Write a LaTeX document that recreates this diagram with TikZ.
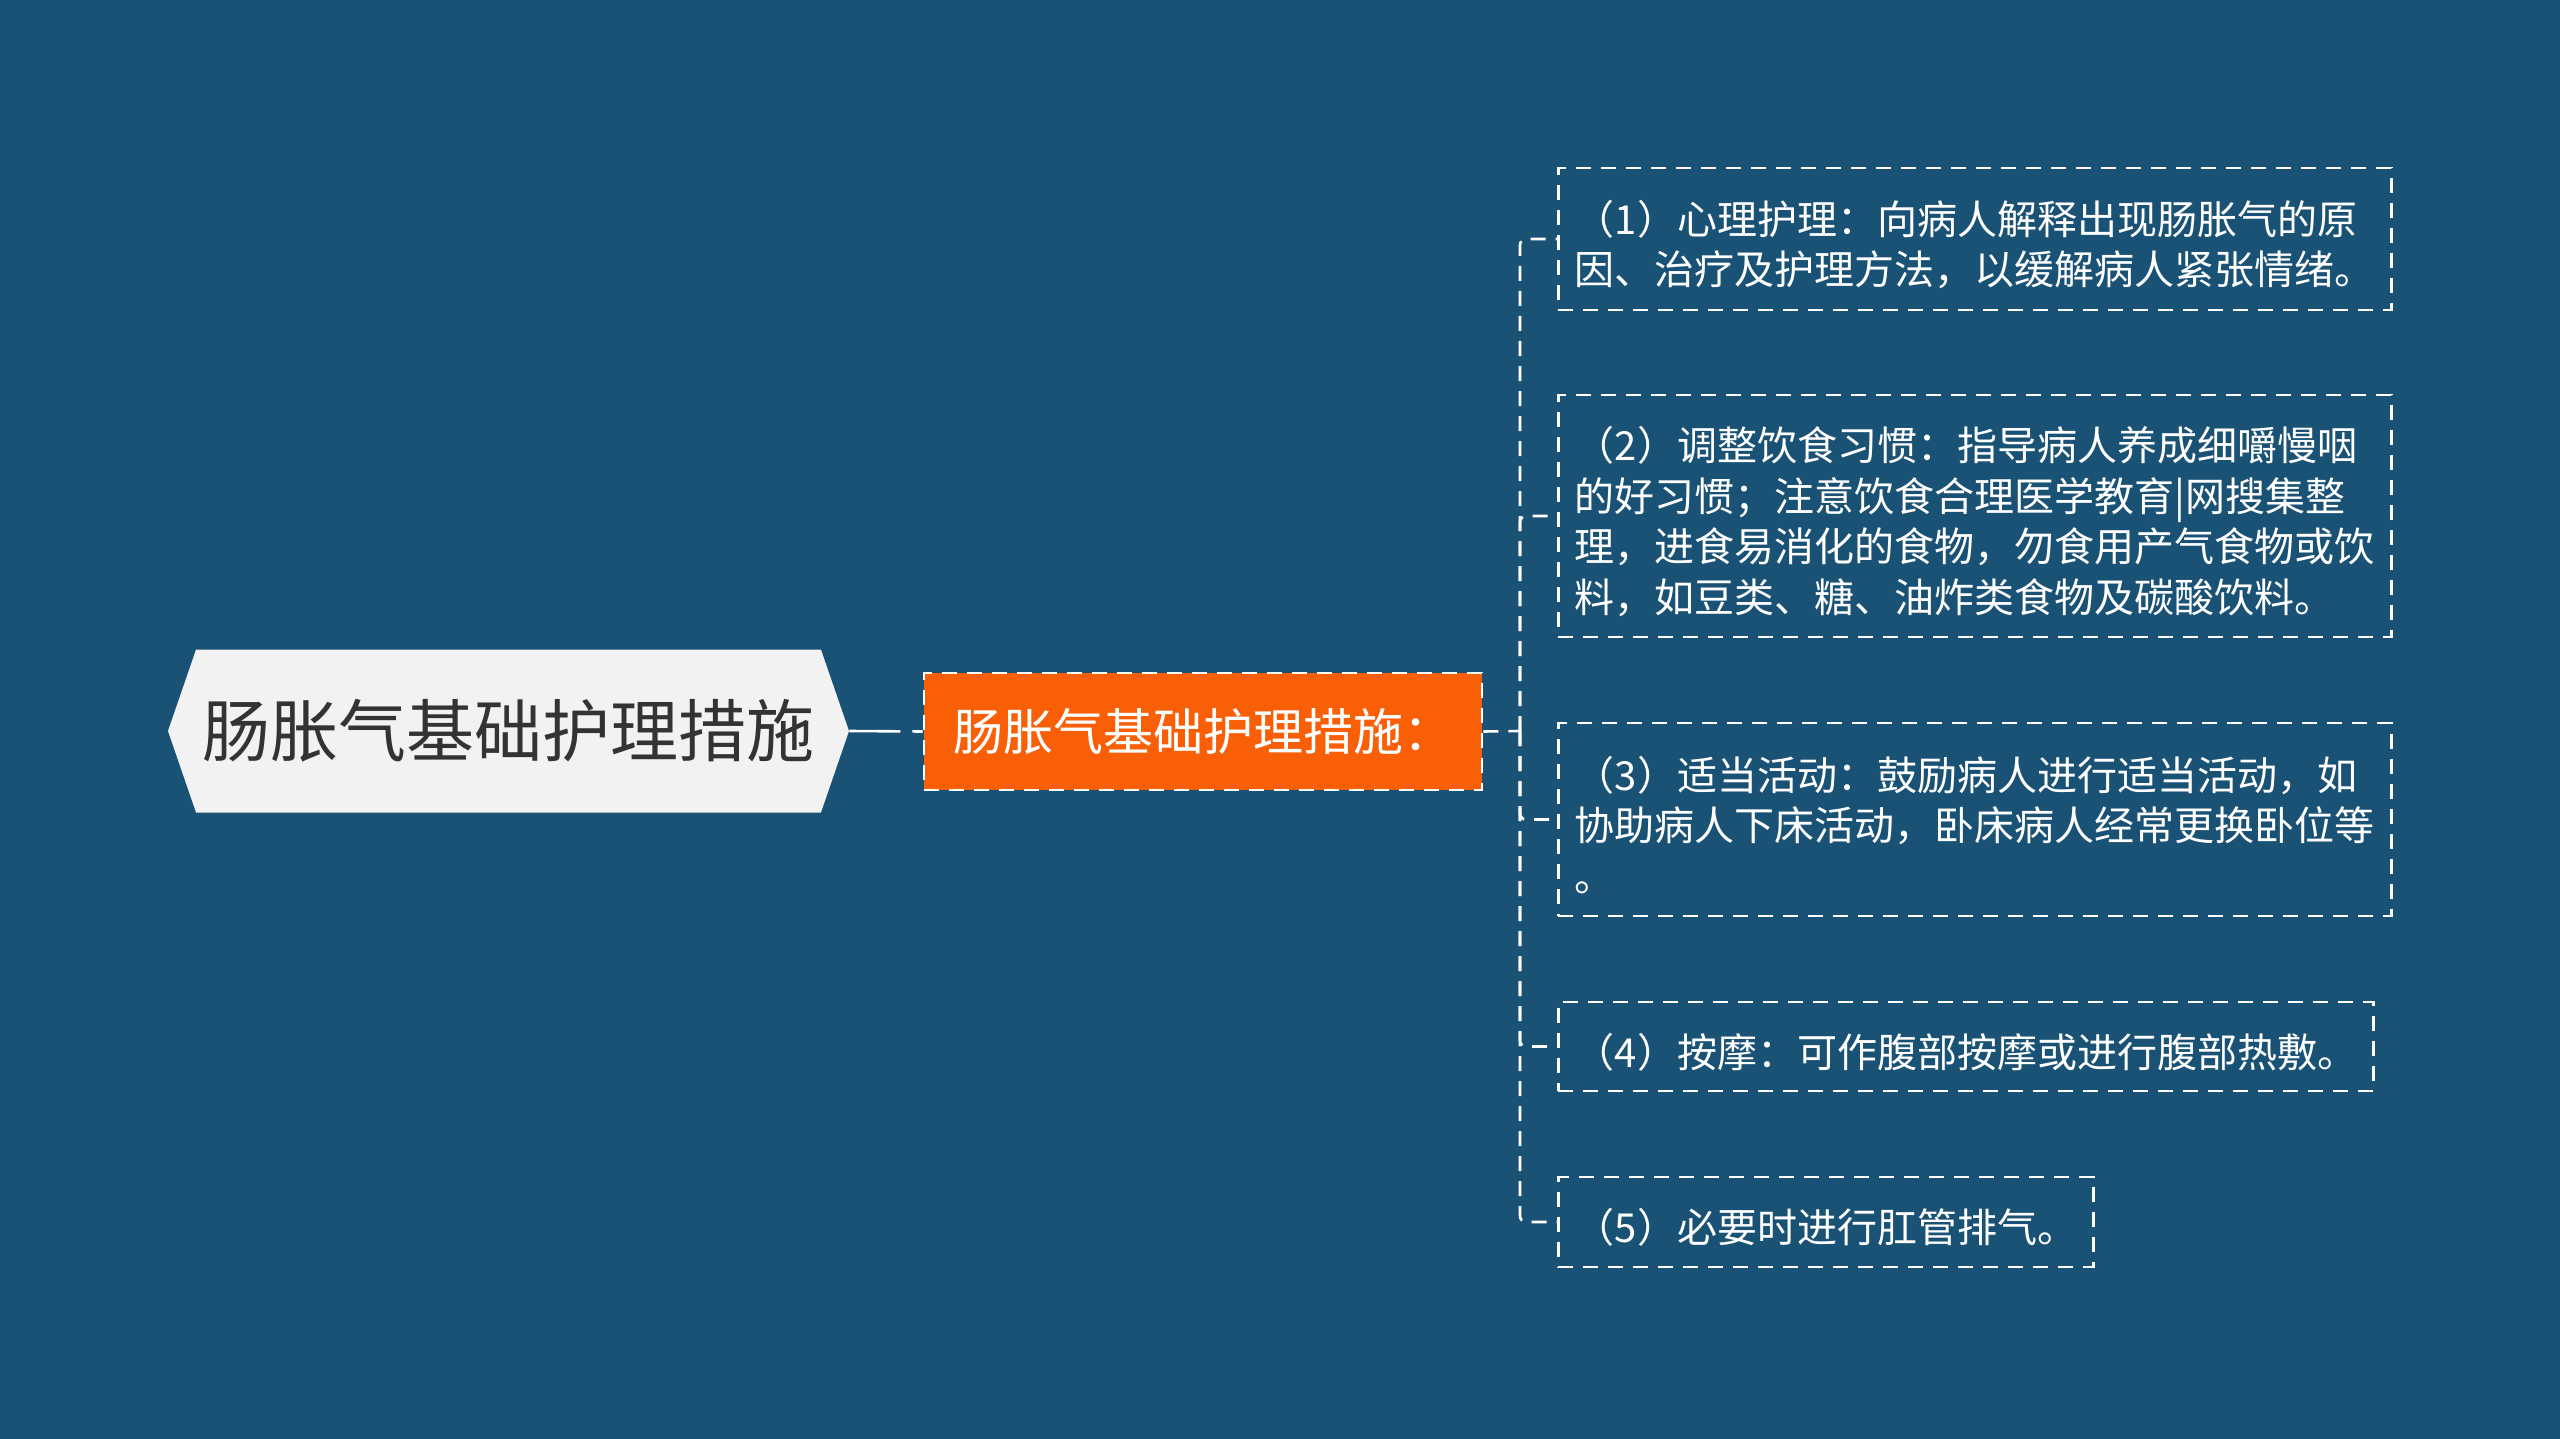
\documentclass[tikz,border=0pt]{standalone}
\usepackage{fontspec}
\newfontfamily\cjk{Noto Sans CJK SC}
\usetikzlibrary{shapes.symbols}
\definecolor{bgblue}{HTML}{1A5276}
\definecolor{suborange}{HTML}{F95F06}
\definecolor{rootgray}{HTML}{F2F2F2}
\definecolor{rootink}{HTML}{333333}
\tikzset{
  dashline/.style={line width=1.3pt, dash pattern=on 7.5pt off 5pt},
  rootbox/.style={signal, signal to=west and east, signal pointer angle=142,
    fill=rootgray, text=rootink, inner sep=0pt,
    minimum width=340.5pt, minimum height=81.5pt,
    font=\cjk\fontsize{34}{40}\selectfont},
  subbox/.style={draw=white, dashline, fill=suborange, text=white,
    minimum width=279pt, minimum height=58.5pt, inner xsep=12.5pt,
    font=\cjk\fontsize{25}{30}\selectfont},
  itembox/.style={draw=white, dashline, text=white, align=left, anchor=west,
    inner xsep=8.25pt, font=\cjk\fontsize{20}{25.3}\selectfont,
    execute at begin node={\rule{0pt}{22.5pt}}},
  link/.style={draw=white, dashline, rounded corners=3pt}
}
\begin{document}
\begin{tikzpicture}[x=0.5pt,y=-0.5pt]
  \fill[bgblue] (0,0) rectangle (2560,1439);
  \useasboundingbox (0,0) rectangle (2560,1439);
  % main topic and sub topic
  \node[rootbox] (root) at (508.5,731) {肠胀气基础护理措施};
  \node[subbox] (sub) at (1203,731.5) {肠胀气基础护理措施：};
  \draw[white, line width=1.3pt, dash pattern=on 25.5pt off 6pt on 6pt off 6pt] (root.east) -- (sub.west);
  % the five measures
  \node[itembox, text width=400pt, minimum height=71pt] (s1) at (1557,239)
    {（1）心理护理：向病人解释出现肠胀气的原\\因、治疗及护理方法，以缓解病人紧张情绪。};
  \node[itembox, text width=400pt, minimum height=121pt] (s2) at (1557,516)
    {（2）调整饮食习惯：指导病人养成细嚼慢咽\\的好习惯；注意饮食合理医学教育|网搜集整\\理，进食易消化的食物，勿食用产气食物或饮\\料，如豆类、糖、油炸类食物及碳酸饮料。};
  \node[itembox, text width=400pt, minimum height=96.5pt] (s3) at (1557,819.5)
    {（3）适当活动：鼓励病人进行适当活动，如\\协助病人下床活动，卧床病人经常更换卧位等\\。};
  \node[itembox, minimum height=44.5pt] (s4) at (1557,1046.5)
    {（4）按摩：可作腹部按摩或进行腹部热敷。};
  \node[itembox, minimum height=45pt] (s5) at (1557,1222)
    {（5）必要时进行肛管排气。};
  % connectors
  \coordinate (hub) at (1520,731);
  \draw[link] (sub.east) -- (hub);
  \foreach \i in {1,...,5}
    \draw[link] (hub) |- (s\i.west);
\end{tikzpicture}
\end{document}
